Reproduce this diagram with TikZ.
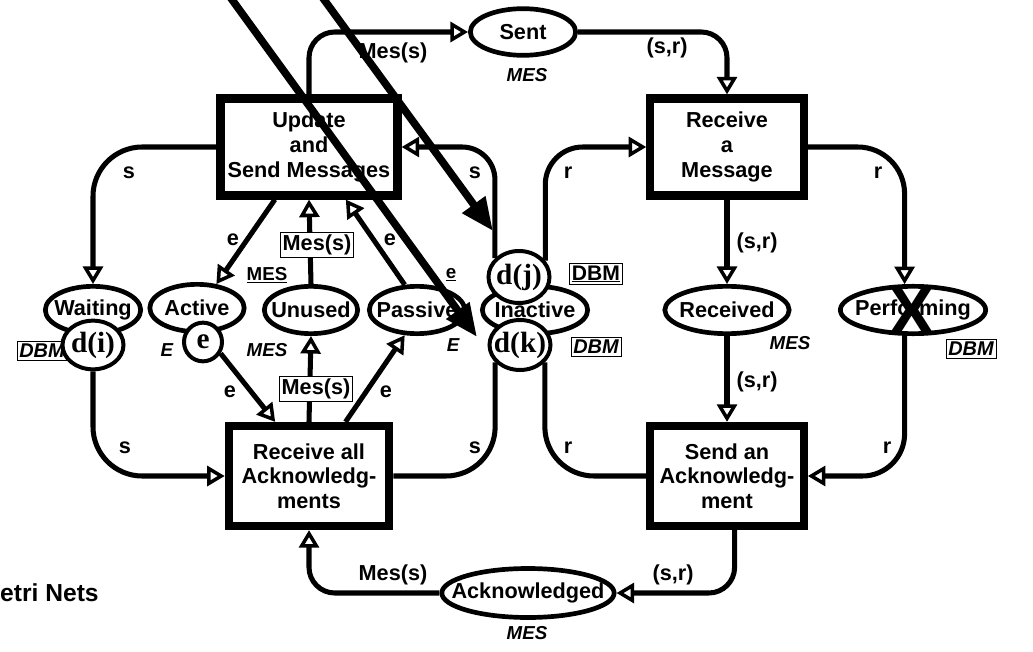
\documentclass[tikz,border=0pt]{standalone}
\usepackage{fontspec}
\setmainfont{Liberation Sans}
\newfontfamily\tokenfont{Liberation Serif}
\usepackage{tikz}
\usetikzlibrary{positioning,arrows.meta,shapes.geometric}

\begin{document}
\begin{tikzpicture}[x=0.03cm, y=-0.03cm, font=\fontsize{18.5}{21}\selectfont\bfseries,
 trans/.style = {rectangle, draw, line width=7pt, fill=white, align=center, inner sep=0pt},
 place/.style = {ellipse, draw, line width=4pt, fill=white, inner xsep=-15pt, inner ysep=0pt, minimum height=1.42cm},
 token/.style = {ellipse, draw, line width=3.4pt, fill=white, inner xsep=-8pt, inner ysep=0pt, font=\fontsize{25}{25}\tokenfont\bfseries},
 arc/.style = {line width=4.3pt, rounded corners=22pt},
 pre/.style = {-{Triangle[open, length=15pt, width=17pt, line width=3pt]}},
 lab/.style = {inner sep=1pt},
 typ/.style = {inner sep=1pt, font=\fontsize{16}{16}\selectfont\bfseries\itshape},
 tbox/.style = {draw, line width=0.8pt, fill=white, inner sep=2pt},
 hint/.style = {line width=6.5pt, -{Triangle[length=28pt, width=23pt]}}]

\useasboundingbox (0,0) rectangle (1033,652);

\node[trans, minimum width=5.31cm, minimum height=2.91cm] (upd) at (309,147) {Update\\and\\Send Messages};
\node[trans, minimum width=4.6cm, minimum height=2.91cm] (rcv) at (727,147) {Receive\\a\\Message};
\node[trans, minimum width=4.81cm, minimum height=3.0cm] (rall) at (309,476) {Receive all\\Acknowledg-\\ments};
\node[trans, minimum width=4.6cm, minimum height=3.0cm] (sack) at (727,476) {Send an\\Acknowledg-\\ment};

\node[place, minimum width=3.16cm, minimum height=1.4cm] (sent) at (523,32) {Sent};
\node[place, minimum width=2.86cm] (wait) at (93,310) {Waiting};
\node[place, minimum width=2.83cm] (act) at (197,308) {Active};
\node[place, minimum width=2.8cm] (unu) at (311,310) {Unused};
\node[place, minimum width=2.86cm] (pas) at (417,310) {Passive};
\node[place, minimum width=3.16cm] (inact) at (535,310) {Inactive};
\node[place, minimum width=3.73cm] (recd) at (727,310) {Received};
\node[place, minimum width=4.36cm] (perf) at (913,310) {Performing};
\node[place, minimum width=5.17cm, minimum height=1.47cm] (ack) at (528,593) {Acknowledged};

\node[typ, tbox, font=\fontsize{17}{17}\selectfont\bfseries\itshape] (dbmi) at (42,351) {DBM};

\node[token, minimum width=1.83cm, minimum height=1.46cm] (di) at (93,345) {d(i)};
\node[token, minimum width=1.14cm, minimum height=1.16cm] (etok) at (203,342) {e};
\node[token, minimum width=1.83cm, minimum height=1.56cm] (dj) at (519,277) {d(j)};
\node[token, minimum width=1.83cm, minimum height=1.5cm] (dk) at (520,345) {d(k)};

\node[font=\fontsize{60}{60}\selectfont\bfseries, inner sep=0pt] (cross) at (912,311) {X};

\draw[arc, pre] (upd.north) |- (sent.west);
\draw[arc, pre] (sent.east) -| (rcv.north);
\draw[arc, pre, rounded corners=42pt] (upd.west) -| (wait.north);
\draw[arc, pre, rounded corners=28pt] (dj.142) |- (upd.east);
\draw[arc, pre, rounded corners=32pt] (dj.32) |- (rcv.west);
\draw[arc, pre, rounded corners=40pt] (rcv.east) -| (perf.108);
\draw[arc, pre] (rcv.south) -- (recd.north);
\draw[arc, pre] (recd.south) -- (sack.north);
\draw[arc, pre, rounded corners=36pt] (perf.252) |- (sack.east);
\draw[arc, rounded corners=42pt] (dk.325) |- (sack.west);
\draw[arc, rounded corners=42pt] (dk.215) |- (rall.east);
\draw[arc, pre, rounded corners=42pt] (di.south) |- (rall.west);
\draw[arc, pre] (sack.278) |- (ack.east);
\draw[arc, pre] (ack.west) -| (rall.south);
\draw[arc, pre] (upd.237) -- (act.51);
\draw[arc, pre] (unu.north) -- (upd.south);
\draw[arc, pre] (pas.116) -- (upd.305);
\draw[arc, pre] (etok.327) -- (rall.122);
\draw[arc, pre] (rall.north) -- (unu.south);
\draw[arc, pre] (rall.56) -- (pas.244);

\node[lab] (l1) at (393,53) {Mes(s)};
\node[lab] (l2) at (667,48) {(s,r)};
\node[lab] (l3) at (129,173) {s};
\node[lab] (l4) at (475,173) {s};
\node[lab] (l5) at (568,173) {r};
\node[lab] (l6) at (878,173) {r};
\node[lab] (l7) at (233,240) {e};
\node[lab] (l8) at (390,240) {e};
\node[lab, tbox] (l9) at (317,245) {Mes(s)};
\node[lab] (l10) at (757,243) {(s,r)};
\node[lab] (l11) at (757,382) {(s,r)};
\node[lab] (l12) at (230,392) {e};
\node[lab] (l13) at (386,392) {e};
\node[lab, tbox] (l14) at (316,389) {Mes(s)};
\node[lab] (l15) at (125,448) {s};
\node[lab] (l16) at (475,448) {s};
\node[lab] (l17) at (568,448) {r};
\node[lab] (l18) at (887,448) {r};
\node[lab] (l19) at (393,575) {Mes(s)};
\node[lab] (l20) at (673,575) {(s,r)};

\node[typ, font=\fontsize{16}{16}\selectfont\bfseries] (mesu) at (267,275) {\underline{MES}};
\node[typ, font=\fontsize{16}{16}\selectfont\bfseries] (eu) at (451,275) {\underline{e}};
\node[typ, tbox, font=\fontsize{18}{18}\selectfont\bfseries] (dbmj) at (596,274) {\underline{DBM}};
\node[typ, tbox, font=\fontsize{17}{17}\selectfont\bfseries\itshape] (dbmk) at (596,347) {DBM};
\node[typ, tbox, font=\fontsize{17}{17}\selectfont\bfseries\itshape] (dbmp) at (971,349) {DBM};
\node[typ] (mes1) at (527,75) {MES};
\node[typ] (e1) at (167,350) {E};
\node[typ] (mes2) at (267,350) {MES};
\node[typ] (e2) at (453,345) {E};
\node[typ] (mes3) at (790,343) {MES};
\node[typ] (mes4) at (527,633) {MES};

\node[anchor=west, inner sep=0pt, font=\fontsize{21}{21}\selectfont\bfseries] (title) at (0,593) {etri Nets};

\coordinate (h1s) at (225,-10);
\coordinate (h1e) at (477,337);
\coordinate (h2s) at (317,-10);
\coordinate (h2e) at (493,231);
\draw[hint] (h1s) -- (h1e);
\draw[hint] (h2s) -- (h2e);
\end{tikzpicture}
\end{document}
